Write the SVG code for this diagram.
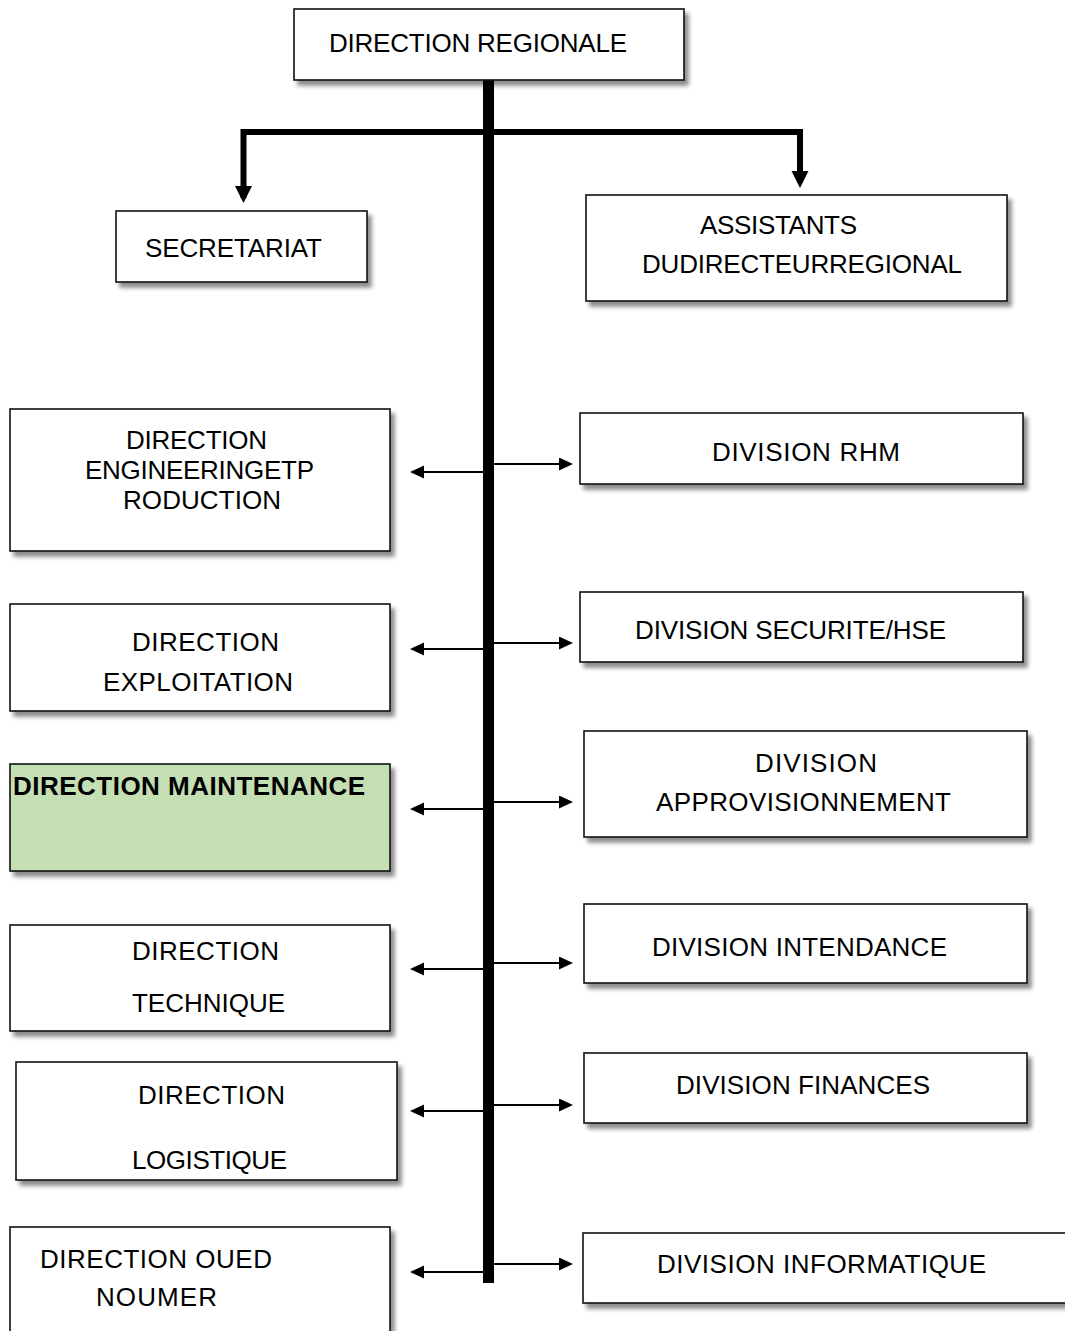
<svg xmlns="http://www.w3.org/2000/svg" width="1065" height="1331" viewBox="0 0 1065 1331">
  <defs>
    <filter id="shadow" x="-10%" y="-10%" width="125%" height="135%">
      <feDropShadow dx="4" dy="5" stdDeviation="2.2" flood-color="#000" flood-opacity="0.45"/>
    </filter>
    <marker id="headThin" markerUnits="userSpaceOnUse" markerWidth="16" markerHeight="14" refX="10" refY="6.5" orient="auto">
      <path d="M0,0 L14,6.5 L0,13 Z" fill="#000"/>
    </marker>
    <marker id="headThick" markerUnits="userSpaceOnUse" markerWidth="19" markerHeight="18" refX="12" refY="8.5" orient="auto">
      <path d="M0,0 L17,8.5 L0,17 Z" fill="#000"/>
    </marker>
  </defs>
  <style>
    .box { fill: #fff; stroke: #111; stroke-width: 1.6; filter: url(#shadow); }
    .green { fill: #c4dfb3; }
    .lbl { font-family: "Liberation Sans", Arial, sans-serif; font-size: 26px; fill: #000; }
    .bold { font-weight: bold; }
    .thin { stroke: #000; stroke-width: 2; fill: none; marker-end: url(#headThin); }
    .thick { stroke: #000; stroke-width: 6; fill: none; }
  </style>

  <rect width="1065" height="1331" fill="#fff"/>

  <!-- connectors -->
  <g id="connectors">
    <rect x="483" y="80" width="11" height="1203" fill="#000"/>
    <path class="thick" d="M243.5,132 H800 V183" marker-end="url(#headThick)"/>
    <path class="thick" d="M243.5,129 V198" marker-end="url(#headThick)"/>
    <!-- to the left-hand directions -->
    <path class="thin" d="M483,472 H414"/>
    <path class="thin" d="M483,649 H414"/>
    <path class="thin" d="M483,809 H414"/>
    <path class="thin" d="M483,969 H414"/>
    <path class="thin" d="M483,1111 H414"/>
    <path class="thin" d="M483,1272 H414"/>
    <!-- to the right-hand divisions -->
    <path class="thin" d="M494,464 H569"/>
    <path class="thin" d="M494,643 H569"/>
    <path class="thin" d="M494,802 H569"/>
    <path class="thin" d="M494,963 H569"/>
    <path class="thin" d="M494,1105 H569"/>
    <path class="thin" d="M494,1264 H569"/>
  </g>

  <g id="direction-regionale">
    <rect class="box" x="294" y="9" width="390" height="71"/>
    <text class="lbl" x="329" y="52" textLength="298">DIRECTION REGIONALE</text>
  </g>

  <g id="secretariat">
    <rect class="box" x="116" y="211" width="251" height="71"/>
    <text class="lbl" x="145" y="257" textLength="177">SECRETARIAT</text>
  </g>

  <g id="assistants">
    <rect class="box" x="586" y="195" width="421" height="106"/>
    <text class="lbl" x="700" y="234" textLength="157">ASSISTANTS</text>
    <text class="lbl" x="642" y="273" textLength="320">DUDIRECTEURREGIONAL</text>
  </g>

  <g id="direction-engineering">
    <rect class="box" x="10" y="409" width="380" height="142"/>
    <text class="lbl" x="126" y="449" textLength="141">DIRECTION</text>
    <text class="lbl" x="85" y="479" textLength="229">ENGINEERINGETP</text>
    <text class="lbl" x="123" y="509" textLength="158">RODUCTION</text>
  </g>

  <g id="direction-exploitation">
    <rect class="box" x="10" y="604" width="380" height="107"/>
    <text class="lbl" x="132" y="651" textLength="147">DIRECTION</text>
    <text class="lbl" x="103" y="691" textLength="190">EXPLOITATION</text>
  </g>

  <g id="direction-maintenance">
    <rect class="box green" x="10" y="764" width="380" height="107"/>
    <text class="lbl bold" x="13" y="795" textLength="352">DIRECTION MAINTENANCE</text>
  </g>

  <g id="direction-technique">
    <rect class="box" x="10" y="925" width="380" height="106"/>
    <text class="lbl" x="132" y="960" textLength="147">DIRECTION</text>
    <text class="lbl" x="132" y="1012" textLength="153">TECHNIQUE</text>
  </g>

  <g id="direction-logistique">
    <rect class="box" x="16" y="1062" width="381" height="118"/>
    <text class="lbl" x="138" y="1104" textLength="147">DIRECTION</text>
    <text class="lbl" x="132" y="1169" textLength="155">LOGISTIQUE</text>
  </g>

  <g id="direction-oued-noumer">
    <rect class="box" x="10" y="1227" width="380" height="120"/>
    <text class="lbl" x="40" y="1268" textLength="232">DIRECTION OUED</text>
    <text class="lbl" x="96" y="1306" textLength="121">NOUMER</text>
  </g>

  <g id="division-rhm">
    <rect class="box" x="580" y="413" width="443" height="71"/>
    <text class="lbl" x="712" y="461" textLength="188">DIVISION RHM</text>
  </g>

  <g id="division-securite">
    <rect class="box" x="580" y="592" width="443" height="70"/>
    <text class="lbl" x="635" y="639" textLength="311">DIVISION SECURITE/HSE</text>
  </g>

  <g id="division-approvisionnement">
    <rect class="box" x="584" y="731" width="443" height="106"/>
    <text class="lbl" x="755" y="772" textLength="122">DIVISION</text>
    <text class="lbl" x="656" y="811" textLength="295">APPROVISIONNEMENT</text>
  </g>

  <g id="division-intendance">
    <rect class="box" x="584" y="904" width="443" height="79"/>
    <text class="lbl" x="652" y="956" textLength="295">DIVISION INTENDANCE</text>
  </g>

  <g id="division-finances">
    <rect class="box" x="584" y="1053" width="443" height="70"/>
    <text class="lbl" x="676" y="1094" textLength="254">DIVISION FINANCES</text>
  </g>

  <g id="division-informatique">
    <rect class="box" x="583" y="1233" width="500" height="70"/>
    <text class="lbl" x="657" y="1273" textLength="329">DIVISION INFORMATIQUE</text>
  </g>
</svg>
